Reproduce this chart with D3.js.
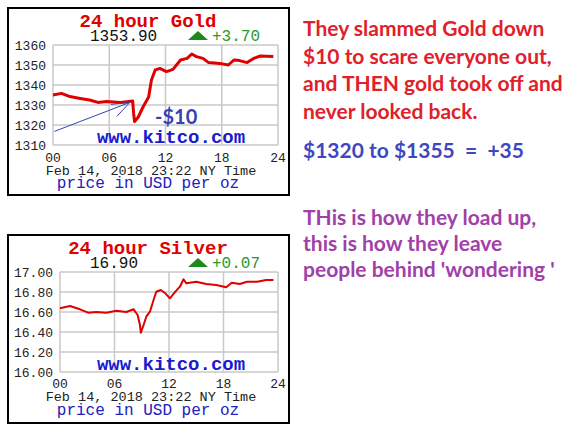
<!DOCTYPE html>
<html>
<head>
<meta charset="utf-8">
<script src="https://cdn.jsdelivr.net/npm/d3@7"></script>
<style>
  body { margin: 0; background: #fff; }
  .mono { font-family: "Liberation Mono", "DejaVu Sans Mono", monospace; }
  .note { font-family: Lato, "Open Sans", sans-serif; font-weight: bold; }
</style>
</head>
<body>
<svg id="chart"></svg>
<script>
// Gold 24h prices (hour of day, USD)
const goldHours  = [0, 0.9, 1.8, 2.9, 3.9, 4.8, 5.7, 7.2, 8.5, 8.6, 8.7, 9.1, 9.6, 10.2, 10.5, 10.9, 11.4, 12.1, 12.8, 13.6, 14.3, 14.8, 15.3, 16.0, 16.6, 17.8, 18.7, 19.3, 19.9, 20.7, 21.4, 22.1, 23.5];
const goldPrices = [1335, 1335.8, 1334.2, 1333.3, 1332.5, 1331.3, 1331.7, 1331.3, 1332, 1325.8, 1321.7, 1324, 1329, 1334, 1342.5, 1347.5, 1348.3, 1346.7, 1347.8, 1352.5, 1353.3, 1355.5, 1354.2, 1353.3, 1351.2, 1350.8, 1350, 1352.5, 1352.2, 1351.2, 1353.3, 1354.5, 1354.2];
const goldTicks  = [1310, 1320, 1330, 1340, 1350, 1360];

// Silver 24h prices (hour of day, USD)
const silverHours  = [0, 1.1, 2.2, 3.1, 4.0, 5.1, 6.2, 7.3, 8.1, 8.55, 8.8, 8.9, 9.2, 9.5, 9.9, 10.3, 10.6, 11.1, 11.6, 12.1, 12.7, 13.2, 13.6, 13.9, 15.0, 16.1, 17.2, 18.3, 18.9, 19.8, 20.6, 21.7, 22.7, 23.5];
const silverPrices = [16.637, 16.66, 16.627, 16.593, 16.60, 16.593, 16.613, 16.60, 16.627, 16.57, 16.47, 16.393, 16.47, 16.553, 16.603, 16.72, 16.803, 16.82, 16.787, 16.737, 16.803, 16.853, 16.927, 16.887, 16.903, 16.88, 16.87, 16.847, 16.893, 16.88, 16.903, 16.903, 16.92, 16.92];
const silverTicks  = [16.0, 16.2, 16.4, 16.6, 16.8, 17.0];

const hourTicks = [0, 6, 12, 18, 24];
const hourLabels = ["00", "06", "12", "18", "24"];

const goldNotes = ["They slammed Gold down", "$10 to scare everyone out,", "and THEN gold took off and", "never looked back."];
const goldSummary = "$1320 to $1355  =  +35";
const silverNotes = ["THis is how they load up,", "this is how they leave", "people behind 'wondering '"];

const svg = d3.select("#chart")
    .attr("width", 571)
    .attr("height", 430);

// Draw one kitco style panel
function drawPanel(p) {
    const g = svg.append("g");

    // outer black frame
    g.append("rect")
        .attr("x", p.box[0]).attr("y", p.box[1])
        .attr("width", p.box[2]).attr("height", p.box[3])
        .attr("fill", "#fff")
        .attr("stroke", "#000")
        .attr("stroke-width", 2);

    const x = d3.scaleLinear().domain([0, 24]).range([p.left, p.right]);
    const y = d3.scaleLinear().domain(p.domain).range([p.bottom, p.top]);

    // grid
    g.selectAll(".hgrid")
        .data(p.ticks)
        .enter().append("line")
        .attr("x1", p.left).attr("x2", p.right)
        .attr("y1", d => y(d)).attr("y2", d => y(d))
        .attr("stroke", "#c8c8c8")
        .attr("stroke-width", 1.5);
    g.selectAll(".vgrid")
        .data(hourTicks)
        .enter().append("line")
        .attr("x1", d => x(d)).attr("x2", d => x(d))
        .attr("y1", p.top).attr("y2", p.bottom)
        .attr("stroke", "#c8c8c8")
        .attr("stroke-width", 1.5);

    // y labels
    g.selectAll(".ylab")
        .data(p.ticks)
        .enter().append("text")
        .attr("class", "mono")
        .attr("x", p.left - 7)
        .attr("y", d => y(d))
        .attr("dy", "0.35em")
        .attr("text-anchor", "end")
        .attr("font-size", 13)
        .attr("fill", "#222")
        .text(d => p.fmt(d));

    // x labels
    g.selectAll(".xlab")
        .data(hourTicks)
        .enter().append("text")
        .attr("class", "mono")
        .attr("x", d => x(d))
        .attr("y", p.xLabY)
        .attr("text-anchor", "middle")
        .attr("font-size", 13)
        .attr("fill", "#222")
        .text((d, i) => hourLabels[i]);

    // watermark
    g.append("text")
        .attr("class", "mono")
        .attr("x", 171).attr("y", p.kitcoY)
        .attr("text-anchor", "middle")
        .attr("font-size", 19)
        .attr("font-weight", "bold")
        .attr("fill", "#1a1ad0")
        .text("www.kitco.com");

    // price line
    const line = d3.line()
        .x((d, i) => x(p.hours[i]))
        .y(d => y(d));
    g.append("path")
        .datum(p.prices)
        .attr("d", line)
        .attr("fill", "none")
        .attr("stroke", "#e00000")
        .attr("stroke-width", p.lineW)
        .attr("stroke-linejoin", "round");

    // header texts
    g.append("text")
        .attr("class", "mono")
        .attr("x", 148).attr("y", p.titleY)
        .attr("text-anchor", "middle")
        .attr("font-size", 19)
        .attr("font-weight", "bold")
        .attr("fill", "#e00000")
        .text(p.title);
    g.append("text")
        .attr("class", "mono")
        .attr("x", p.priceX).attr("y", p.titleY + 14)
        .attr("font-size", 16)
        .attr("fill", "#111")
        .text(p.price);
    g.append("path")
        .attr("d", `M${188},${p.titleY + 13} L${198},${p.titleY + 4} L${208},${p.titleY + 13} Z`)
        .attr("fill", "#1a8a1a");
    g.append("text")
        .attr("class", "mono")
        .attr("x", 212).attr("y", p.titleY + 14)
        .attr("font-size", 16)
        .attr("fill", "#2a9a2a")
        .text(p.change);

    // footer
    g.append("text")
        .attr("class", "mono")
        .attr("x", 151).attr("y", p.dateY)
        .attr("text-anchor", "middle")
        .attr("font-size", 13.5)
        .attr("fill", "#222")
        .text("Feb 14, 2018 23:22 NY Time");
    g.append("text")
        .attr("class", "mono")
        .attr("x", 148).attr("y", p.unitY)
        .attr("text-anchor", "middle")
        .attr("font-size", 16)
        .attr("fill", "#2020c0")
        .text("price in USD per oz");

    return { x: x, y: y, g: g };
}

const gold = drawPanel({
    box: [8, 8, 281, 187], left: 53, right: 278, top: 45, bottom: 145,
    domain: [1310, 1360], ticks: goldTicks, fmt: d3.format("d"),
    hours: goldHours, prices: goldPrices, lineW: 3,
    title: "24 hour Gold", titleY: 27, price: "1353.90", priceX: 90, change: "+3.70",
    xLabY: 162, kitcoY: 143, dateY: 175, unitY: 188
});

const silver = drawPanel({
    box: [8, 235, 281, 188], left: 60, right: 278, top: 272, bottom: 372,
    domain: [16, 17], ticks: silverTicks, fmt: d3.format(".2f"),
    hours: silverHours, prices: silverPrices, lineW: 2,
    title: "24 hour Silver", titleY: 254, price: "16.90", priceX: 90, change: "+0.07",
    xLabY: 388, kitcoY: 370, dateY: 401, unitY: 415
});

// "-$10" annotation and arrow on gold chart
gold.g.append("text")
    .attr("class", "note")
    .attr("x", 155).attr("y", 124)
    .attr("font-size", 20)
    .attr("font-weight", "normal")
    .attr("fill", "#3344b0")
    .text("-$10");

const tipX = gold.x(8.2), tipY = gold.y(1331.3);
const tailX = gold.x(0.15), tailY = gold.y(1316.8);
gold.g.append("line")
    .attr("x1", tailX).attr("y1", tailY)
    .attr("x2", tipX).attr("y2", tipY)
    .attr("stroke", "#3344b0")
    .attr("stroke-width", 1);
gold.g.append("path")
    .attr("d", `M${tipX - 19},${tipY + 2} L${tipX},${tipY} L${tipX - 13},${tipY + 14}`)
    .attr("fill", "none")
    .attr("stroke", "#3344b0")
    .attr("stroke-width", 1);

// right hand commentary
svg.selectAll(".gnote")
    .data(goldNotes)
    .enter().append("text")
    .attr("class", "note")
    .attr("x", 303)
    .attr("y", (d, i) => 36 + i * 27.5)
    .attr("font-size", 21)
    .attr("fill", "#e0202a")
    .text(d => d);

svg.append("text")
    .attr("class", "note")
    .attr("x", 303).attr("y", 158)
    .attr("font-size", 21)
    .attr("fill", "#3d48c0")
    .attr("xml:space", "preserve")
    .style("white-space", "pre")
    .text(goldSummary);

svg.selectAll(".snote")
    .data(silverNotes)
    .enter().append("text")
    .attr("class", "note")
    .attr("x", 303)
    .attr("y", (d, i) => 225 + i * 26)
    .attr("font-size", 21)
    .attr("fill", "#a040a8")
    .text(d => d);
</script>
</body>
</html>
